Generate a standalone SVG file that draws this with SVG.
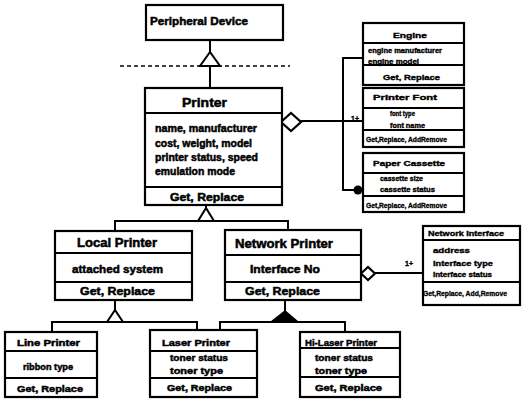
<svg xmlns="http://www.w3.org/2000/svg" width="522" height="399" viewBox="0 0 522 399">
  <style>
    .box { fill: #fff; stroke: #000; stroke-width: 2.2; }
    .div { stroke: #000; stroke-width: 2; }
    .ln { fill: none; stroke: #000; stroke-width: 2; }
    .dash { fill: none; stroke: #000; stroke-width: 1.6; stroke-dasharray: 4 3; }
    text { font-family: "Liberation Sans", Arial, sans-serif; font-weight: bold; fill: #000; stroke: #000; stroke-width: 0.5; }
    .t13 { font-size: 13px; }
    .t12 { font-size: 12px; }
    .t11 { font-size: 11px; }
    .t10 { font-size: 10.5px; }
    .t9 { font-size: 9.5px; }
    .t8 { font-size: 8px; stroke-width: 0.4; }
    .t7 { font-size: 7px; stroke-width: 0.35; }
    .t6 { font-size: 6.5px; stroke-width: 0.3; }
  </style>

  <!-- connectors -->
  <g id="connectors">
    <!-- Peripheral Device generalization -->
    <line class="dash" x1="120" y1="66" x2="290" y2="66"/>
    <line class="ln" x1="210" y1="40" x2="210" y2="52"/>
    <polygon points="210,52 200,66 220,66" fill="#fff" stroke="#000" stroke-width="2"/>
    <line class="ln" x1="210" y1="66" x2="210" y2="88"/>

    <!-- Printer aggregation to components -->
    <polygon points="281,122 291,113 301,122 291,131" fill="#fff" stroke="#000" stroke-width="2.2"/>
    <line class="ln" x1="301" y1="121" x2="363" y2="121"/>
    <polyline class="ln" points="363,58 343,58 343,190 358,190"/>
    <circle cx="358" cy="190" r="4.5" fill="#000"/>
    <text class="t7" x="351" y="120.5">1+</text>

    <!-- Printer specialization -->
    <line class="ln" x1="206" y1="205" x2="206" y2="208"/>
    <polygon points="206,208 198,221 214,221" fill="#fff" stroke="#000" stroke-width="2"/>
    <polyline class="ln" points="115,231 115,221 288,221 288,230"/>

    <!-- Local Printer specialization -->
    <line class="ln" x1="115" y1="300" x2="115" y2="310"/>
    <polygon points="115,310 107,322 123,322" fill="#fff" stroke="#000" stroke-width="2"/>
    <polyline class="ln" points="52,332 52,322 197,322 197,330"/>

    <!-- Network Printer specialization -->
    <line class="ln" x1="285" y1="300" x2="285" y2="311"/>
    <polygon points="285,311 271,322 298,322" fill="#000" stroke="#000" stroke-width="1.5"/>
    <polyline class="ln" points="220,330 220,322 345,322 345,332"/>

    <!-- Network Printer aggregation to Network Interface -->
    <polygon points="361,273.5 368,267 375,273.5 368,280" fill="#fff" stroke="#000" stroke-width="2.2"/>
    <line class="ln" x1="375" y1="273" x2="423" y2="273"/>
    <text class="t7" x="405" y="266">1+</text>
  </g>

  <g id="peripheral-device">
    <rect class="box" x="146" y="5" width="137" height="35"/>
    <text class="t11" x="150" y="25" textLength="98" lengthAdjust="spacingAndGlyphs">Peripheral Device</text>
  </g>

  <g id="printer">
    <rect class="box" x="145" y="88" width="137" height="117"/>
    <line class="div" x1="145" y1="113" x2="282" y2="113"/>
    <line class="div" x1="145" y1="187" x2="282" y2="187"/>
    <text class="t13" x="182" y="106.5" textLength="45" lengthAdjust="spacingAndGlyphs">Printer</text>
    <text class="t10" x="155" y="132" textLength="102" lengthAdjust="spacingAndGlyphs">name, manufacturer</text>
    <text class="t10" x="155" y="147" textLength="97" lengthAdjust="spacingAndGlyphs">cost, weight, model</text>
    <text class="t10" x="155" y="161" textLength="103" lengthAdjust="spacingAndGlyphs">printer status, speed</text>
    <text class="t10" x="155" y="175" textLength="80" lengthAdjust="spacingAndGlyphs">emulation mode</text>
    <text class="t11" x="170" y="201" textLength="74" lengthAdjust="spacingAndGlyphs">Get, Replace</text>
  </g>

  <g id="engine">
    <rect class="box" x="363" y="23" width="101" height="62"/>
    <line class="div" x1="363" y1="43" x2="464" y2="43"/>
    <line class="div" x1="363" y1="65" x2="464" y2="65"/>
    <text class="t8" x="393" y="38" textLength="34" lengthAdjust="spacingAndGlyphs">Engine</text>
    <text class="t7" x="368" y="52.5" textLength="74" lengthAdjust="spacingAndGlyphs">engine manufacturer</text>
    <text class="t7" x="368" y="63.5" textLength="51" lengthAdjust="spacingAndGlyphs">engine model</text>
    <text class="t8" x="383" y="80" textLength="57" lengthAdjust="spacingAndGlyphs">Get, Replace</text>
  </g>

  <g id="printer-font">
    <rect class="box" x="363" y="88" width="101" height="59"/>
    <line class="div" x1="363" y1="108" x2="464" y2="108"/>
    <line class="div" x1="363" y1="130" x2="464" y2="130"/>
    <text class="t8" x="373" y="100" textLength="64" lengthAdjust="spacingAndGlyphs">Printer Font</text>
    <text class="t7" x="390" y="115.5" textLength="25" lengthAdjust="spacingAndGlyphs">font type</text>
    <text class="t7" x="390" y="127.5" textLength="35" lengthAdjust="spacingAndGlyphs">font name</text>
    <text class="t6" x="366" y="142" textLength="81" lengthAdjust="spacingAndGlyphs">Get,Replace, AddRemove</text>
  </g>

  <g id="paper-cassette">
    <rect class="box" x="363" y="153" width="101" height="59"/>
    <line class="div" x1="363" y1="173" x2="464" y2="173"/>
    <line class="div" x1="363" y1="196" x2="464" y2="196"/>
    <text class="t8" x="373" y="166" textLength="72" lengthAdjust="spacingAndGlyphs">Paper Cassette</text>
    <text class="t7" x="380" y="180.5" textLength="43" lengthAdjust="spacingAndGlyphs">cassette size</text>
    <text class="t7" x="380" y="191.5" textLength="55" lengthAdjust="spacingAndGlyphs">cassette status</text>
    <text class="t6" x="366" y="207.5" textLength="81" lengthAdjust="spacingAndGlyphs">Get,Replace, AddRemove</text>
  </g>

  <g id="network-interface">
    <rect class="box" x="423" y="226" width="97" height="79"/>
    <line class="div" x1="423" y1="240" x2="520" y2="240"/>
    <line class="div" x1="423" y1="282" x2="520" y2="282"/>
    <text class="t7" x="428" y="236" textLength="76" lengthAdjust="spacingAndGlyphs">Network Interface</text>
    <text class="t7" x="433" y="252.5" textLength="37" lengthAdjust="spacingAndGlyphs">address</text>
    <text class="t7" x="433" y="265.5" textLength="60" lengthAdjust="spacingAndGlyphs">interface type</text>
    <text class="t7" x="433" y="276.5" textLength="59" lengthAdjust="spacingAndGlyphs">interface status</text>
    <text class="t6" x="423" y="295.5" textLength="84" lengthAdjust="spacingAndGlyphs">Get,Replace, Add,Remove</text>
  </g>

  <g id="local-printer">
    <rect class="box" x="55" y="231" width="137" height="69"/>
    <line class="div" x1="55" y1="253" x2="192" y2="253"/>
    <line class="div" x1="55" y1="282" x2="192" y2="282"/>
    <text class="t12" x="77" y="247" textLength="80" lengthAdjust="spacingAndGlyphs">Local  Printer</text>
    <text class="t11" x="72" y="273" textLength="91" lengthAdjust="spacingAndGlyphs">attached system</text>
    <text class="t11" x="80" y="295" textLength="75" lengthAdjust="spacingAndGlyphs">Get, Replace</text>
  </g>

  <g id="network-printer">
    <rect class="box" x="225" y="230" width="136" height="70"/>
    <line class="div" x1="225" y1="255" x2="361" y2="255"/>
    <line class="div" x1="225" y1="282" x2="361" y2="282"/>
    <text class="t12" x="235" y="248" textLength="98" lengthAdjust="spacingAndGlyphs">Network  Printer</text>
    <text class="t11" x="250" y="273" textLength="70" lengthAdjust="spacingAndGlyphs">Interface No</text>
    <text class="t11" x="245" y="295" textLength="75" lengthAdjust="spacingAndGlyphs">Get, Replace</text>
  </g>

  <g id="line-printer">
    <rect class="box" x="5" y="332" width="92" height="65"/>
    <line class="div" x1="5" y1="351" x2="97" y2="351"/>
    <line class="div" x1="5" y1="378" x2="97" y2="378"/>
    <text class="t9" x="17" y="345.5" textLength="63" lengthAdjust="spacingAndGlyphs">Line Printer</text>
    <text class="t9" x="23" y="369.5" textLength="50" lengthAdjust="spacingAndGlyphs">ribbon type</text>
    <text class="t9" x="17" y="391.5" textLength="66" lengthAdjust="spacingAndGlyphs">Get, Replace</text>
  </g>

  <g id="laser-printer">
    <rect class="box" x="150" y="330" width="107" height="67"/>
    <line class="div" x1="150" y1="351" x2="257" y2="351"/>
    <line class="div" x1="150" y1="378" x2="257" y2="378"/>
    <text class="t9" x="162" y="345.5" textLength="68" lengthAdjust="spacingAndGlyphs">Laser Printer</text>
    <text class="t9" x="170" y="360.5" textLength="58" lengthAdjust="spacingAndGlyphs">toner status</text>
    <text class="t9" x="170" y="373.5" textLength="53" lengthAdjust="spacingAndGlyphs">toner type</text>
    <text class="t9" x="167" y="390.5" textLength="65" lengthAdjust="spacingAndGlyphs">Get, Replace</text>
  </g>

  <g id="hi-laser-printer">
    <rect class="box" x="300" y="332" width="100" height="65"/>
    <line class="div" x1="300" y1="348" x2="400" y2="348"/>
    <line class="div" x1="300" y1="377" x2="400" y2="377"/>
    <text class="t9" x="305" y="345.5" textLength="72" lengthAdjust="spacingAndGlyphs">Hi-Laser Printer</text>
    <text class="t9" x="315" y="360.5" textLength="58" lengthAdjust="spacingAndGlyphs">toner status</text>
    <text class="t9" x="315" y="373.5" textLength="52" lengthAdjust="spacingAndGlyphs">toner type</text>
    <text class="t9" x="315" y="390.5" textLength="67" lengthAdjust="spacingAndGlyphs">Get, Replace</text>
  </g>
</svg>
